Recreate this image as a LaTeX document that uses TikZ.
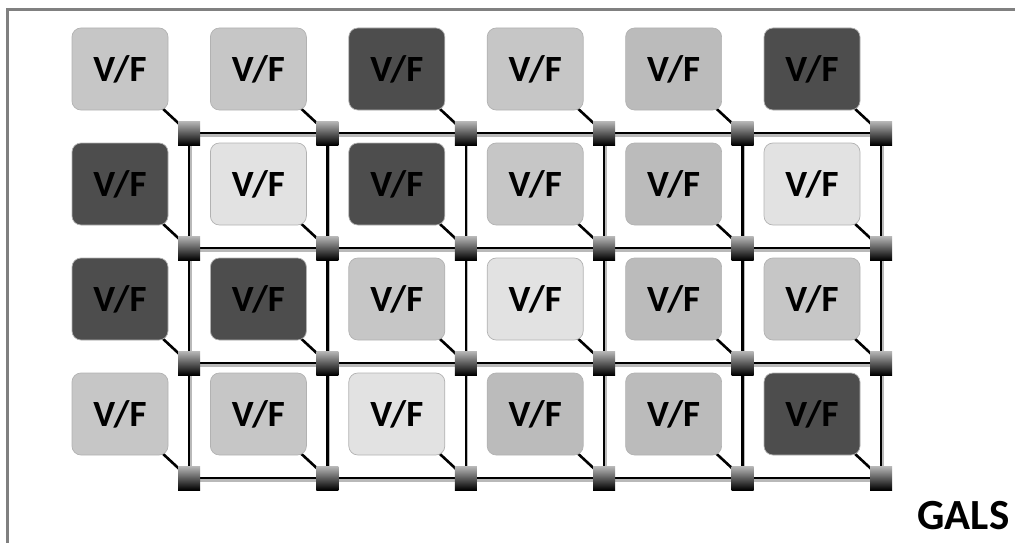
\documentclass[tikz,border=0pt]{standalone}
\usepackage{fontspec}
\setmainfont{Carlito}
\usetikzlibrary{backgrounds}

\definecolor{vfdark}{HTML}{4D4D4D}
\definecolor{vflight}{HTML}{C6C6C6}
\definecolor{vfmid}{HTML}{BBBBBB}
\definecolor{vfpale}{HTML}{E2E2E2}
\definecolor{framegray}{HTML}{808080}

\begin{document}
\begin{tikzpicture}[
  x=1pt, y=-1pt,
  vf/.style={
    rectangle, rounded corners=9pt, draw=black!30, line width=0.7pt,
    minimum width=96pt, minimum height=82pt, inner sep=0pt,
    font=\fontsize{37}{40}\selectfont\bfseries
  },
  router/.style={
    rectangle, minimum width=22pt, minimum height=24pt, inner sep=0pt,
    top color=gray!55, bottom color=black
  },
  tie/.style={line width=2.6pt, black},
  hlink/.style={line width=2.4pt, black,
    preaction={draw, gray!55, line width=3pt, transform canvas={yshift=-2pt}}},
  vlink/.style={line width=2.4pt, black,
    preaction={draw, gray!55, line width=2pt, transform canvas={xshift=1.5pt}}},
  frame/.style={line width=3pt, framegray},
]
\useasboundingbox (0,0) rectangle (1015,543);

\draw[frame] (1015,10) -- (7,10) -- (7,543);

% V/F islands
\node[vf, fill=vflight] (v11) at (120,  69) {V/F};
\node[vf, fill=vflight] (v12) at (258.4,69) {V/F};
\node[vf, fill=vfdark]  (v13) at (396.8,69) {V/F};
\node[vf, fill=vflight] (v14) at (535.2,69) {V/F};
\node[vf, fill=vfmid]   (v15) at (673.6,69) {V/F};
\node[vf, fill=vfdark]  (v16) at (812,  69) {V/F};

\node[vf, fill=vfdark]  (v21) at (120,  184) {V/F};
\node[vf, fill=vfpale]  (v22) at (258.4,184) {V/F};
\node[vf, fill=vfdark]  (v23) at (396.8,184) {V/F};
\node[vf, fill=vflight] (v24) at (535.2,184) {V/F};
\node[vf, fill=vfmid]   (v25) at (673.6,184) {V/F};
\node[vf, fill=vfpale]  (v26) at (812,  184) {V/F};

\node[vf, fill=vfdark]  (v31) at (120,  299) {V/F};
\node[vf, fill=vfdark]  (v32) at (258.4,299) {V/F};
\node[vf, fill=vflight] (v33) at (396.8,299) {V/F};
\node[vf, fill=vfpale]  (v34) at (535.2,299) {V/F};
\node[vf, fill=vfmid]   (v35) at (673.6,299) {V/F};
\node[vf, fill=vflight] (v36) at (812,  299) {V/F};

\node[vf, fill=vflight] (v41) at (120,  414) {V/F};
\node[vf, fill=vflight] (v42) at (258.4,414) {V/F};
\node[vf, fill=vfpale]  (v43) at (396.8,414) {V/F};
\node[vf, fill=vfmid]   (v44) at (535.2,414) {V/F};
\node[vf, fill=vfmid]   (v45) at (673.6,414) {V/F};
\node[vf, fill=vfdark]  (v46) at (812,  414) {V/F};

% routers
\foreach \r in {1,...,4}
  \foreach \c in {1,...,6}
    \node[router] (r\r\c) at ({189+138.4*(\c-1)}, {133+115*(\r-1)}) {};

\begin{pgfonlayer}{background}
  \foreach \r in {1,...,4}
    \foreach \c in {1,...,6}
      \draw[tie] (v\r\c.center) -- (r\r\c.center);
  \foreach \r in {1,...,4}
    \foreach \c in {1,...,5}{
      \pgfmathtruncatemacro{\nxt}{\c+1}
      \draw[hlink] (r\r\c.center) -- (r\r\nxt.center);
    }
  \foreach \r in {1,...,3}
    \foreach \c in {1,...,6}{
      \pgfmathtruncatemacro{\nxt}{\r+1}
      \draw[vlink] (r\r\c.center) -- (r\nxt\c.center);
    }
\end{pgfonlayer}

\node[anchor=base east, font=\fontsize{43}{46}\selectfont\bfseries] (gals) at (1013,529) {GALS};

\end{tikzpicture}
\end{document}
